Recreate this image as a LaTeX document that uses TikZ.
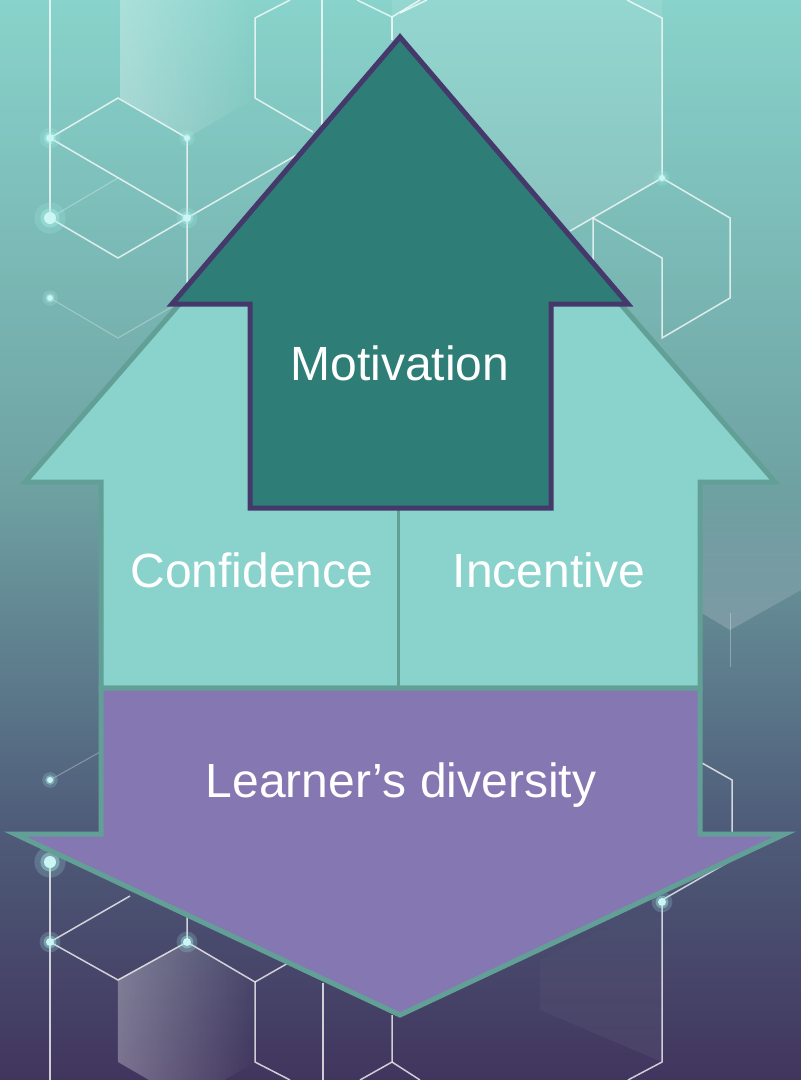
\documentclass[tikz,border=0pt]{standalone}
\usepackage{fontspec}
\setmainfont{Liberation Sans}
\usetikzlibrary{fadings}
\definecolor{bgA}{HTML}{88D3CB}
\definecolor{bgB}{HTML}{6FA3A3}
\definecolor{bgC}{HTML}{4F5D7A}
\definecolor{bgD}{HTML}{41355E}
\definecolor{lightteal}{HTML}{89D3CC}
\definecolor{lightedge}{HTML}{62A097}
\definecolor{darkteal}{HTML}{2E7D76}
\definecolor{darkedge}{HTML}{45386A}
\definecolor{lavender}{HTML}{8577B2}
\definecolor{glowcyan}{HTML}{A8F0EA}
\begin{document}
\begin{tikzpicture}[
        x=1pt, y=-1pt,
        upn/.style={fill=lightteal, draw=lightedge, line width=5pt, line join=miter},
        motivn/.style={fill=darkteal, draw=darkedge, line width=5pt, line join=miter},
        downn/.style={fill=lavender, draw=lightedge, line width=5pt, line join=miter},
        wordn/.style={text=white, inner sep=0pt, font=\fontsize{48}{58}\selectfont},
        hexl/.style={draw=white, draw opacity=.75, line width=1.5pt},
        hexfaint/.style={draw=white, draw opacity=.3, line width=1pt},
        facen/.style={fill=white, fill opacity=.3, path fading=east},
    ]
    \useasboundingbox (0,0) rectangle (801,1080);
    \clip (0,0) rectangle (801,1080);
    \shade[top color=bgA, bottom color=bgB] (0,0) rectangle (801,481);
    \shade[top color=bgB, bottom color=bgC] (0,480) rectangle (801,821);
    \shade[top color=bgC, bottom color=bgD] (0,820) rectangle (801,1080);

    \fill[facen] (120,0) -- (255,0) -- (255,98) -- (187,138) -- (120,98) -- cycle;
    \fill[facen] (118,980) -- (187,942) -- (255,982) -- (255,1062) -- (187,1102) -- (118,1062) -- cycle;
    \fill[white, fill opacity=.1] (392,0) -- (662,0) -- (662,178) -- (560,236) -- (392,140) -- cycle;
    \fill[white, fill opacity=.18, path fading=north] (700,485) -- (801,485) -- (801,590) -- (730,630) -- (700,612) -- cycle;
    \fill[white, fill opacity=.05, path fading=north] (540,960) -- (662,900) -- (662,1062) -- (540,1010) -- cycle;

    \draw[hexl] (50,0) -- (50,218);
    \draw[hexl] (50,138) -- (118,98) -- (187,138) -- (187,300);
    \draw[hexl] (50,138) -- (187,218);
    \draw[hexl] (50,218) -- (118,258) -- (187,218) -- (300,153);
    \draw[hexfaint] (50,218) -- (118,178);
    \draw[hexfaint] (50,298) -- (118,338) -- (175,305);
    \draw[hexl] (290,0) -- (255,18) -- (255,98) -- (313,132);
    \draw[hexl] (322,0) -- (322,125);
    \draw[hexl] (357,0) -- (392,17) -- (420,0);
    \draw[hexl] (392,17) -- (392,40);
    \draw[hexl] (400,13) -- (427,0);
    \draw[hexl] (627,0) -- (662,18) -- (662,178) -- (570,231);
    \draw[hexl] (662,178) -- (730,218) -- (730,298) -- (662,338) -- (662,258) -- (593,218) -- (593,320);
    \draw[hexfaint] (730,613) -- (730,667);
    \draw[hexl] (702,763) -- (732,780) -- (732,860) -- (662,900) -- (662,1062) -- (628,1080);
    \draw[hexfaint] (50,780) -- (100,752);
    \draw[hexl] (50,862) -- (50,1080);
    \draw[hexl] (50,942) -- (118,980) -- (187,942) -- (187,900);
    \draw[hexl] (50,942) -- (130,896);
    \draw[hexl] (187,942) -- (255,982) -- (255,1062) -- (290,1080);
    \draw[hexl] (255,982) -- (290,962);
    \draw[hexl] (323,983) -- (323,1080);
    \draw[hexl] (392,1015) -- (392,1062) -- (360,1080);
    \draw[hexl] (392,1062) -- (420,1080);

    \foreach \x/\y/\r in {50/138/4, 50/218/6, 187/138/3, 187/218/4, 50/298/3, 662/178/3,
            50/780/3, 50/862/6, 50/942/4, 187/942/4, 662/902/4} {
        \fill[glowcyan, opacity=.2] (\x,\y) circle ({2.6*\r pt});
        \fill[glowcyan, opacity=.4] (\x,\y) circle ({1.6*\r pt});
        \fill[glowcyan!60!white] (\x,\y) circle (\r pt);
    }

    \draw[upn] (101,688) -- (101,482) -- (25,482) -- (400,50) -- (775,482) -- (700,482) -- (700,688) -- cycle;
    \draw[lightedge, line width=3pt] (398,508) -- (398,688);
    \draw[downn] (101,688) -- (700,688) -- (700,834) -- (785,834) -- (400,1015) -- (15,834) -- (101,834) -- cycle;
    \draw[motivn] (250,508) -- (250,304) -- (172,304) -- (400,37) -- (628,304) -- (551,304) -- (551,508) -- cycle;

    \node[wordn, anchor=base] (motivation) at (400,380) {Motivation};
    \node[wordn, anchor=base] (confidence) at (252,587) {Confidence};
    \node[wordn, anchor=base] (incentive) at (549,587) {Incentive};
    \node[wordn, anchor=base] (diversity) at (401,797) {Learner’s diversity};
\end{tikzpicture}
\end{document}
